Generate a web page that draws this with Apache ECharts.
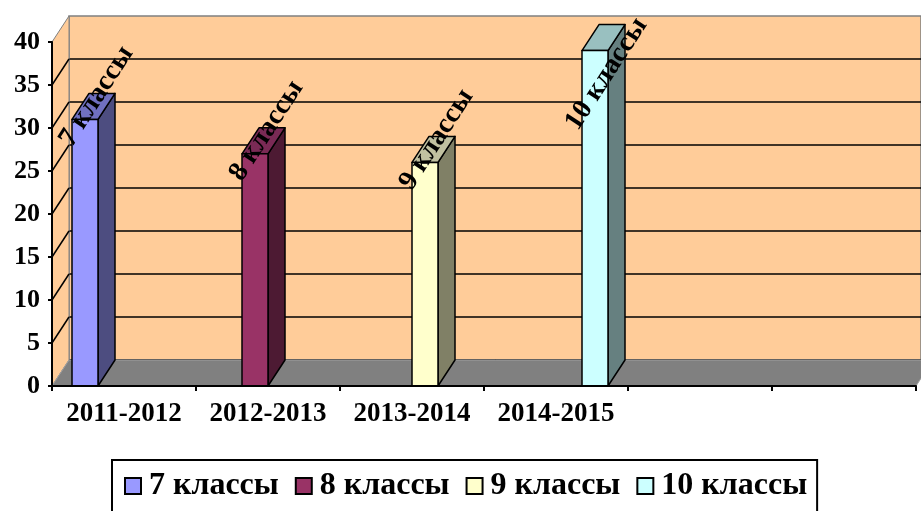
<!DOCTYPE html>
<html>
<head>
<meta charset="utf-8">
<script src="https://cdn.jsdelivr.net/npm/echarts@6/dist/echarts.min.js"></script>
<style>
  html, body { margin: 0; padding: 0; background: #fff; }
  #main { width: 921px; height: 511px; }
</style>
</head>
<body>
<div id="main"></div>
<script>
// categories (two empty slots on the right, like the original sheet)
const years = ['2011-2012', '2012-2013', '2013-2014', '2014-2015', '', ''];
const seriesNames = ['7 классы', '8 классы', '9 классы', '10 классы'];
// one value per series, placed in its own year
const grade7 = [31, null, null, null, null, null];
const grade8 = [null, 27, null, null, null, null];
const grade9 = [null, null, 26, null, null, null];
const grade10 = [null, null, null, 39, null, null];
const yMin = 0, yMax = 40, yStep = 5;

const allValues = [grade7, grade8, grade9, grade10];
const frontColors = ['#9999FF', '#993366', '#FFFFCC', '#CCFFFF'];
const sideColors = ['#4D4D80', '#4D1A33', '#808066', '#668080'];
const topColors = ['#7070C0', '#7A2A55', '#C0C0A0', '#99C0C0'];

// 3D depth of the fake perspective
const DX = 17, DY = 26;
const FONT = '"Liberation Serif", "Times New Roman", serif';
const LABEL_ANGLE = 57 * Math.PI / 180;

var myChart = echarts.init(document.getElementById('main'));

// walls, floor and side-wall grid lines
const sceneSeries = {
    type: 'custom',
    xAxisIndex: 0,
    yAxisIndex: 0,
    z: 1,
    silent: true,
    data: [[0, 0]],
    renderItem: function (params, api) {
        const cs = params.coordSys;
        const x = cs.x, y = cs.y, w = cs.width, h = cs.height;
        const kids = [];
        // left side wall
        kids.push({
            type: 'polygon',
            shape: { points: [[x, y], [x + DX, y - DY], [x + DX, y + h - DY], [x, y + h]] },
            style: { fill: '#FFCC99', stroke: '#808080', lineWidth: 1 }
        });
        // floor
        kids.push({
            type: 'polygon',
            shape: { points: [[x, y + h], [x + w, y + h], [x + w + DX, y + h - DY], [x + DX, y + h - DY]] },
            style: { fill: '#808080', stroke: '#A0A0A0', lineWidth: 1 }
        });
        for (let v = yMin + yStep; v < yMax; v += yStep) {
            const py = api.coord([0, v])[1];
            kids.push({
                type: 'line',
                shape: { x1: x, y1: py, x2: x + DX, y2: py - DY },
                style: { stroke: '#000', lineWidth: 1.5 }
            });
        }
        return { type: 'group', children: kids };
    }
};

function makeBarSeries(s) {
    const data = [];
    allValues[s].forEach((v, i) => { if (v != null) data.push([i, v]); });
    return {
        name: seriesNames[s],
        type: 'custom',
        xAxisIndex: 0,
        yAxisIndex: 0,
        z: 3,
        itemStyle: { color: frontColors[s], borderColor: '#000', borderWidth: 2 },
        data: data,
        renderItem: function (params, api) {
            const cat = api.value(0), val = api.value(1);
            const top = api.coord([cat, val]);
            const base = api.coord([cat, 0]);
            const band = api.size([1, 0])[0];
            const bw = band * 26 / 144;
            const cx = top[0] + (s - 1.5) * bw;
            const x0 = cx - bw / 2, x1 = cx + bw / 2;
            const ty = top[1], by = base[1];
            const line = { stroke: '#000', lineWidth: 1.5, lineJoin: 'round' };
            const wallTop = params.coordSys.y - DY;
            const lx = cx + DX / 2 + 3;
            const ly = Math.max(ty - DY / 2 - 10, wallTop + 58);
            return {
                type: 'group',
                children: [
                    { type: 'polygon', shape: { points: [[x1, ty], [x1 + DX, ty - DY], [x1 + DX, by - DY], [x1, by]] },
                      style: Object.assign({ fill: sideColors[s] }, line) },
                    { type: 'polygon', shape: { points: [[x0, ty], [x0 + DX, ty - DY], [x1 + DX, ty - DY], [x1, ty]] },
                      style: Object.assign({ fill: topColors[s] }, line) },
                    { type: 'rect', shape: { x: x0, y: ty, width: bw, height: by - ty },
                      style: Object.assign({ fill: frontColors[s] }, line) },
                    { type: 'text', x: lx, y: ly, rotation: LABEL_ANGLE, z2: 10,
                      style: { text: seriesNames[s], fill: '#000', align: 'center', verticalAlign: 'middle',
                               font: 'bold 28px ' + FONT } }
                ]
            };
        }
    };
}

const option = {
    animation: false,
    backgroundColor: '#fff',
    grid: [
        // front plane (axes)
        { left: 52, top: 42, width: 864, height: 344 },
        // back wall
        { left: 52 + DX, top: 42 - DY, width: 864, height: 344, show: true,
          backgroundColor: '#FFCC99', borderColor: '#808080', borderWidth: 1.5 }
    ],
    legend: {
        data: seriesNames,
        left: 112,
        top: 460,
        icon: 'rect',
        itemWidth: 16,
        itemHeight: 16,
        itemGap: 16,
        padding: [10, 10, 14, 12],
        borderColor: '#000',
        borderWidth: 2,
        itemStyle: { borderColor: '#000', borderWidth: 2 },
        textStyle: { fontFamily: FONT, fontWeight: 'bold', fontSize: 32, color: '#000', padding: [0, 0, 0, 3] }
    },
    xAxis: [
        {
            type: 'category', gridIndex: 0, data: years, z: 10,
            axisLine: { lineStyle: { color: '#000', width: 2 } },
            axisTick: { show: true, interval: 0, length: 5, lineStyle: { color: '#000', width: 2 } },
            axisLabel: { interval: 0, color: '#000', fontFamily: FONT, fontWeight: 'bold', fontSize: 27, margin: 15 },
            splitLine: { show: false }
        },
        { type: 'category', gridIndex: 1, data: years, show: false }
    ],
    yAxis: [
        {
            type: 'value', gridIndex: 0, min: yMin, max: yMax, interval: yStep, z: 10,
            axisLine: { show: true, lineStyle: { color: '#000', width: 2 } },
            axisTick: { show: true, length: 4, lineStyle: { color: '#000', width: 2 } },
            axisLabel: { color: '#000', fontFamily: FONT, fontWeight: 'bold', fontSize: 26, margin: 12 },
            splitLine: { show: false }
        },
        {
            type: 'value', gridIndex: 1, min: yMin, max: yMax, interval: yStep,
            axisLine: { show: false }, axisTick: { show: false }, axisLabel: { show: false },
            splitLine: { show: true, showMaxLine: false, lineStyle: { color: '#000', width: 1.5 } }
        }
    ],
    series: [sceneSeries].concat(seriesNames.map((n, s) => makeBarSeries(s)))
};

myChart.setOption(option);
</script>
</body>
</html>
